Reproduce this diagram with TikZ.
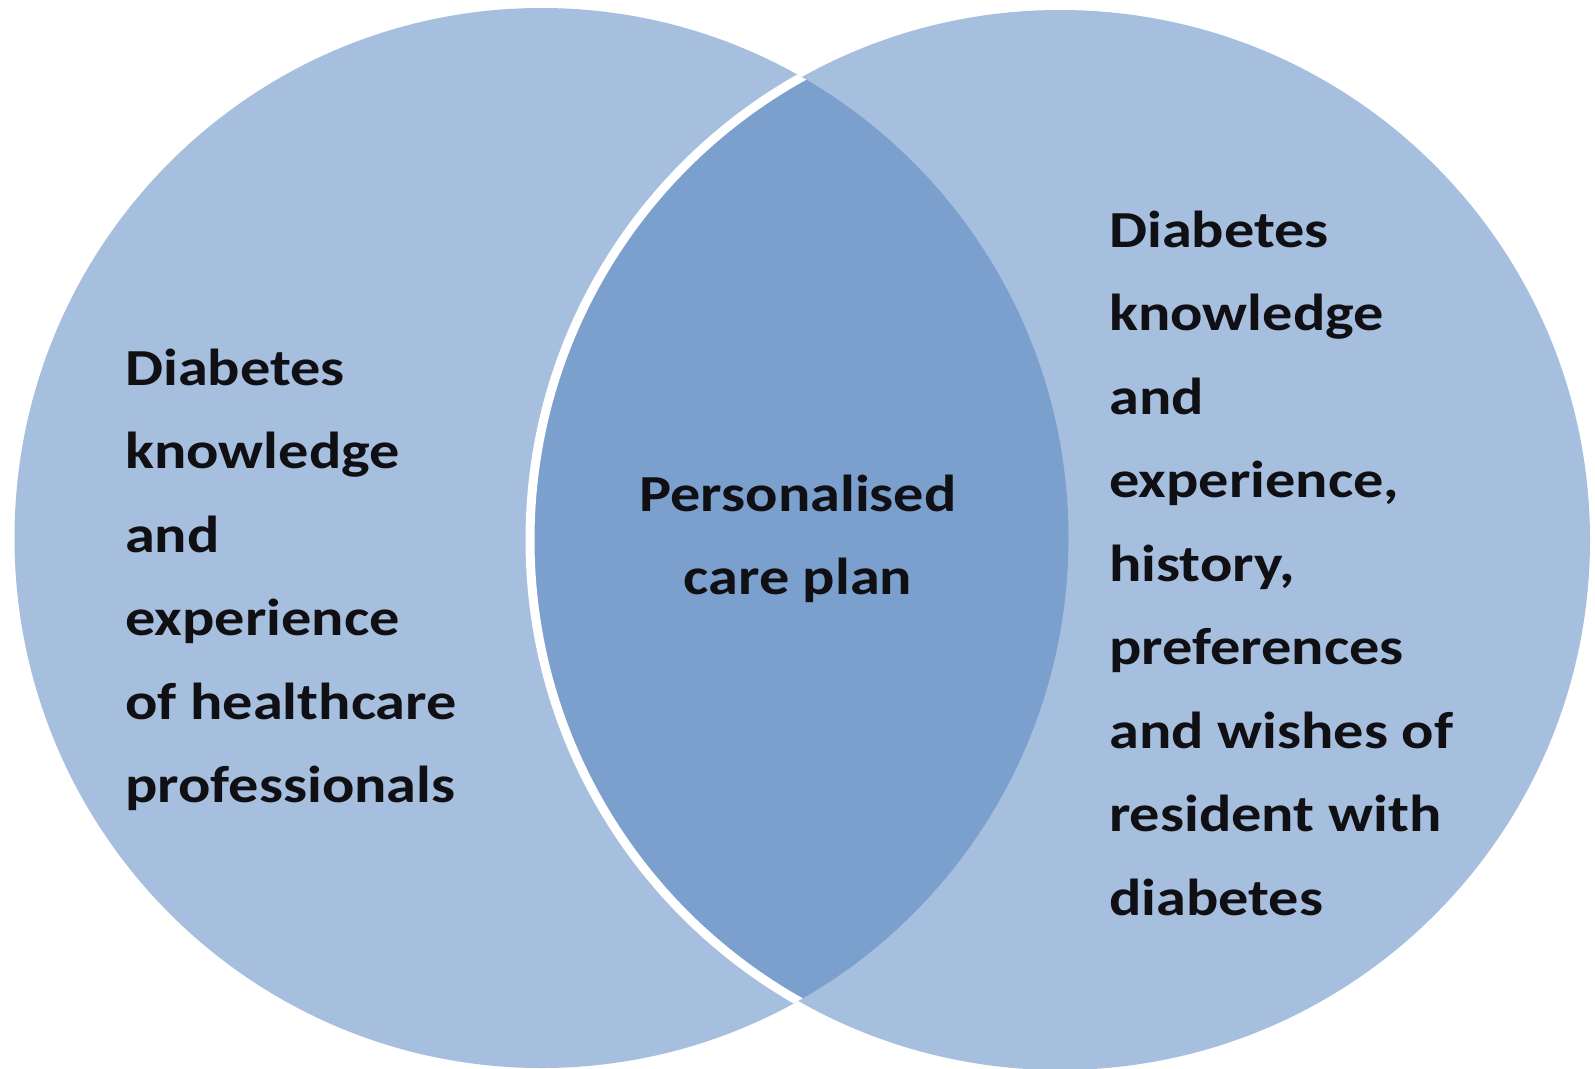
\documentclass[tikz,border=0pt]{standalone}
\usepackage{fontspec}
\setmainfont{Carlito}[FakeStretch=1.16]
\definecolor{lightblue}{RGB}{167,191,222}
\definecolor{darkblue}{RGB}{123,160,205}
\definecolor{txtcol}{RGB}{15,15,20}
\tikzset{
  txt/.style={inner sep=0pt, text=txtcol, font=\fontsize{52}{60}\selectfont\bfseries},
}
\begin{document}
\begin{tikzpicture}[x=1pt,y=-1pt]
\useasboundingbox[fill=white] (0,0) rectangle (1595,1068);
% circles
\fill[lightblue] (541.5,538) ellipse[x radius=527, y radius=530];
\fill[lightblue] (1060,540) circle[radius=530];
\begin{scope}
  \clip (541.5,538) ellipse[x radius=527, y radius=530];
  \fill[darkblue] (1060,540) circle[radius=530];
  \draw[white, line width=9pt] (1060,540) circle[radius=530];
\end{scope}
% left text
\foreach \t [count=\i] in {Diabetes,knowledge,and,experience,of healthcare,professionals}
  \node[txt, anchor=base west] (L\i) at (125,{385+83.5*(\i-1)}) {\t};
% right text
\foreach \t [count=\i] in {Diabetes,knowledge,and,{experience,},{history,},preferences,and wishes of,resident with,diabetes}
  \node[txt, anchor=base west] (R\i) at (1109,{247+83.5*(\i-1)}) {\t};
% centre text
\node[txt, anchor=base] (C1) at (798,511) {Personalised};
\node[txt, anchor=base] (C2) at (798,594) {care plan};
\end{tikzpicture}
\end{document}
